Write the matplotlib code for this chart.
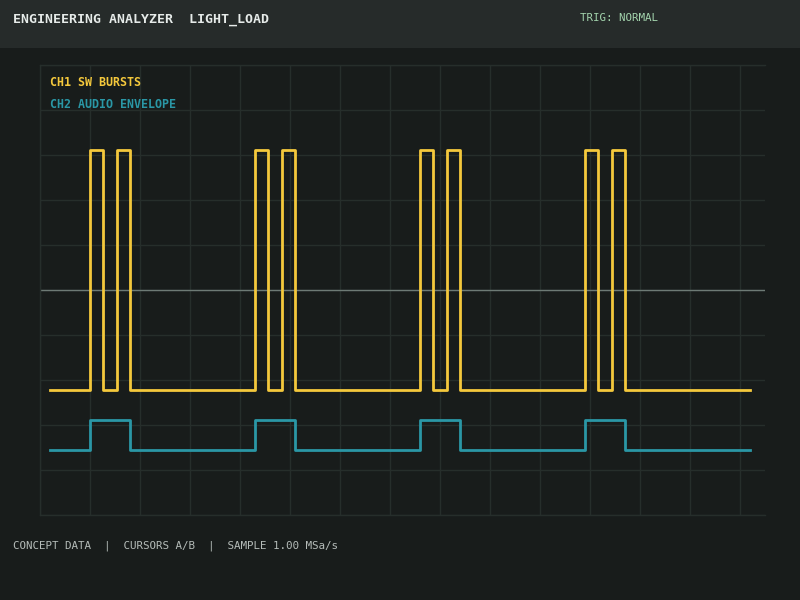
import matplotlib
matplotlib.use("Agg")
import matplotlib.pyplot as plt
import matplotlib.patches as mpatches

# Time axis in microseconds, logic levels 0/1
ch1_t = [0, 8, 10.6, 13.4, 16, 41, 43.6, 46.4, 49, 74, 76.6, 79.4, 82,
         107, 109.6, 112.4, 115, 140]
ch1_v = [0, 1, 0, 1, 0, 1, 0, 1, 0, 1, 0, 1, 0, 1, 0, 1, 0, 0]
ch2_t = [0, 8, 16, 41, 49, 74, 82, 107, 115, 140]
ch2_v = [0, 1, 0, 1, 0, 1, 0, 1, 0, 0]

labels = ["CH1 SW BURSTS", "CH2 AUDIO ENVELOPE"]
title = "ENGINEERING ANALYZER  LIGHT_LOAD"
trig = "TRIG: NORMAL"
footer = "CONCEPT DATA  |  CURSORS A/B  |  SAMPLE 1.00 MSa/s"

# display offsets / gains (in divisions)
ch1_off, ch1_gain = 2.78, 5.33
ch2_off, ch2_gain = 1.44, 0.67

bg = "#181c1b"
header_bg = "#262b2a"
grid_c = "#262e2b"
yellow = "#f4c83c"
teal = "#2a97a6"

fig = plt.figure(figsize=(8, 6), dpi=100, facecolor=bg)
fig.patches.append(mpatches.Rectangle((0, 1 - 48 / 600), 1, 48 / 600,
                                      transform=fig.transFigure,
                                      facecolor=header_bg, edgecolor="none", zorder=0))

ax = fig.add_axes([40 / 800, 85 / 600, 725 / 800, 450 / 600])
ax.set_facecolor(bg)
ax.set_xlim(-2, 143)
ax.set_ylim(0, 10)
ax.set_xticks([-2 + 10 * k for k in range(15)])
ax.set_yticks(range(11))
ax.grid(True, color=grid_c, lw=1)
ax.tick_params(length=0, labelbottom=False, labelleft=False)
for s in ax.spines.values():
    s.set_color(grid_c)
    s.set_linewidth(1)
ax.spines["right"].set_visible(False)
ax.axhline(5, color="#6d7a75", lw=1, zorder=2)

ax.plot(ch1_t, [ch1_off + ch1_gain * v for v in ch1_v], drawstyle="steps-post",
        color=yellow, lw=2.0, zorder=3)
ax.plot(ch2_t, [ch2_off + ch2_gain * v for v in ch2_v], drawstyle="steps-post",
        color=teal, lw=2.0, zorder=3)

mono = "DejaVu Sans Mono"
fig.text(13 / 800, 1 - 19 / 600, title, family=mono, fontsize=9.5, fontweight="bold",
         color="#e6ebe9", va="center", ha="left")
fig.text(580 / 800, 1 - 18 / 600, trig, family=mono, fontsize=7.8,
         color="#a3d4ad", va="center", ha="left")
fig.text(50 / 800, 1 - 82 / 600, labels[0], family=mono, fontsize=8.4, fontweight="bold",
         color=yellow, va="center", ha="left")
fig.text(50 / 800, 1 - 104 / 600, labels[1], family=mono, fontsize=8.4, fontweight="bold",
         color=teal, va="center", ha="left")
fig.text(13 / 800, 1 - 546 / 600, footer, family=mono, fontsize=7.8,
         color="#b5bcb9", va="center", ha="left")

fig.savefig("out.png", dpi=100, facecolor=bg)
